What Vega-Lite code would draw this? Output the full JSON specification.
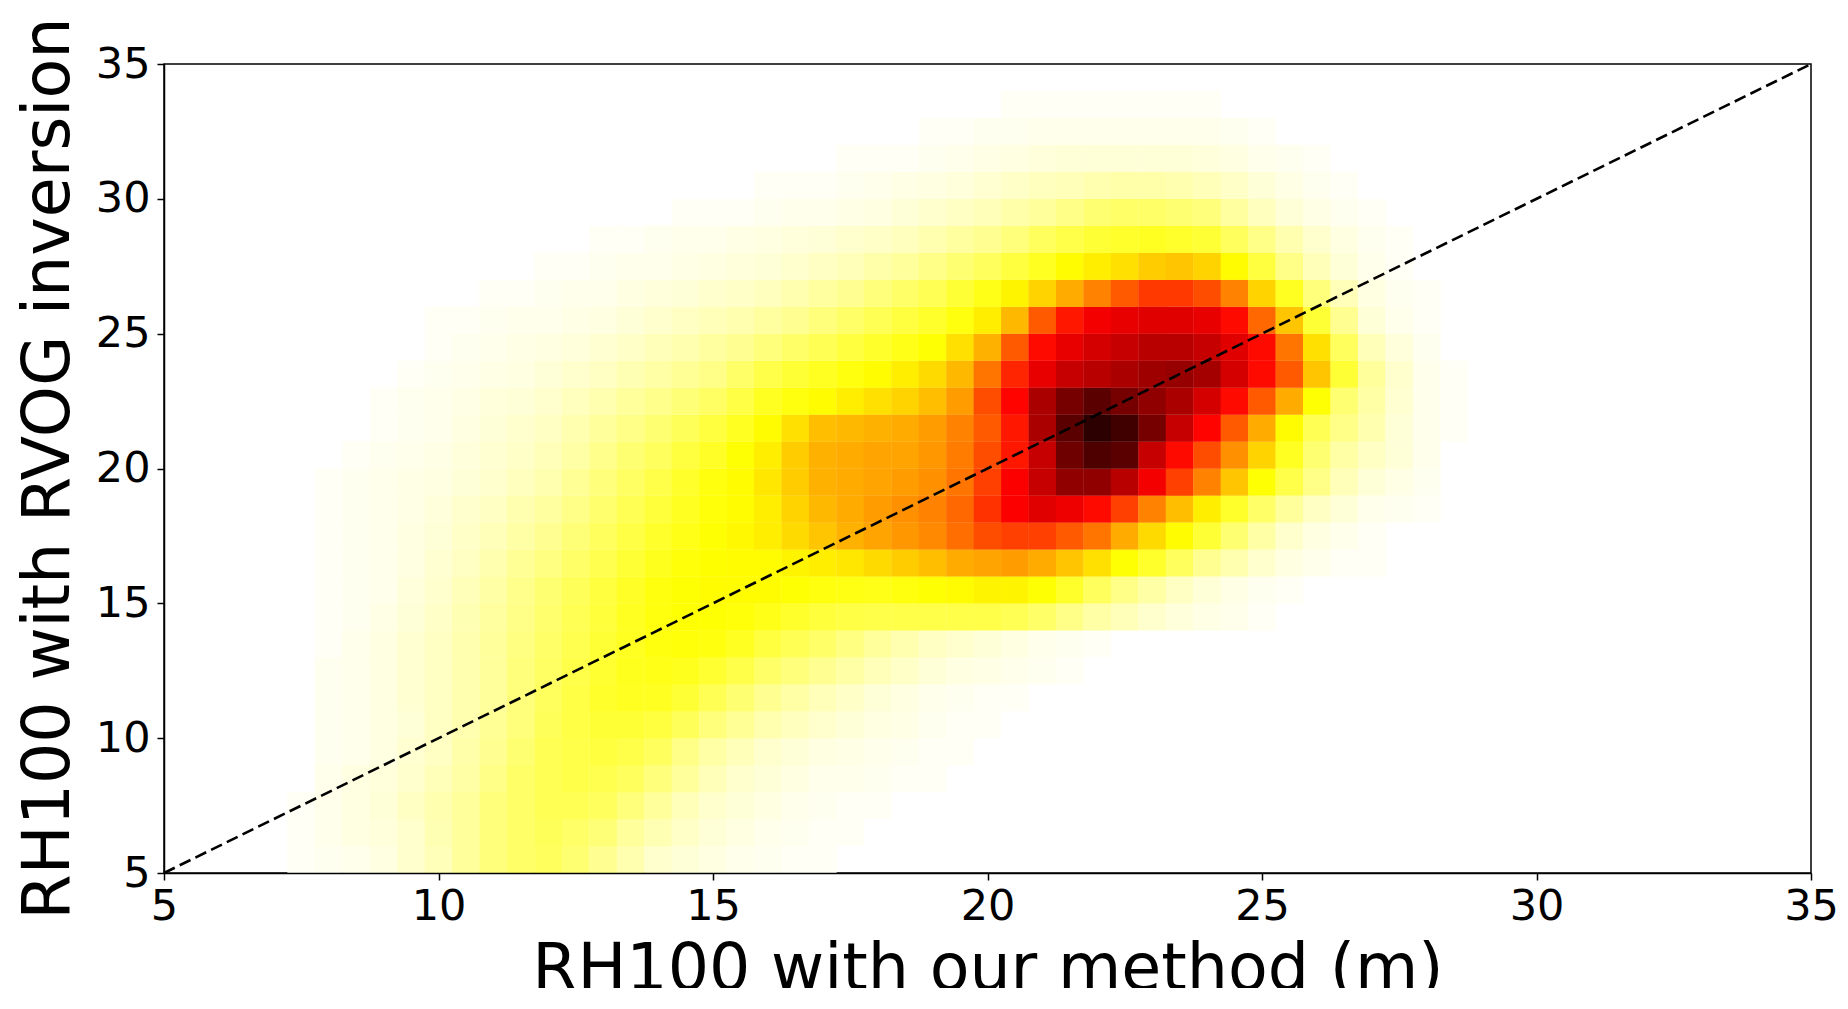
{"$schema":"https://vega.github.io/schema/vega-lite/v6.json","width":1647,"height":809,"autosize":{"type":"none"},"padding":{"left":164,"top":64,"right":37,"bottom":115},"background":"white","config":{"font":"DejaVu Sans","view":{"stroke":"black","strokeWidth":1.5}},"layer":[{"data":{"values":[
{"x":7.5,"y":5.5,"v":1},{"x":8,"y":5.5,"v":1.5},{"x":8.5,"y":5.5,"v":2},{"x":9,"y":5.5,"v":3},{"x":9.5,"y":5.5,"v":5},{"x":10,"y":5.5,"v":7},{"x":10.5,"y":5.5,"v":10},{"x":11,"y":5.5,"v":13},{"x":11.5,"y":5.5,"v":15},{"x":12,"y":5.5,"v":16},{"x":12.5,"y":5.5,"v":14},{"x":13,"y":5.5,"v":11},{"x":13.5,"y":5.5,"v":8},{"x":14,"y":5.5,"v":5},{"x":14.5,"y":5.5,"v":4},{"x":15,"y":5.5,"v":3},{"x":15.5,"y":5.5,"v":2},{"x":16,"y":5.5,"v":1.5},{"x":16.5,"y":5.5,"v":1},{"x":17,"y":5.5,"v":1},
{"x":7.5,"y":6.5,"v":1},{"x":8,"y":6.5,"v":2},{"x":8.5,"y":6.5,"v":3},{"x":9,"y":6.5,"v":3.5},{"x":9.5,"y":6.5,"v":5},{"x":10,"y":6.5,"v":7.5},{"x":10.5,"y":6.5,"v":10},{"x":11,"y":6.5,"v":13},{"x":11.5,"y":6.5,"v":15},{"x":12,"y":6.5,"v":16.5},{"x":12.5,"y":6.5,"v":15},{"x":13,"y":6.5,"v":13.5},{"x":13.5,"y":6.5,"v":10},{"x":14,"y":6.5,"v":7.5},{"x":14.5,"y":6.5,"v":5.5},{"x":15,"y":6.5,"v":4},{"x":15.5,"y":6.5,"v":3},{"x":16,"y":6.5,"v":2},{"x":16.5,"y":6.5,"v":1.5},{"x":17,"y":6.5,"v":1},{"x":17.5,"y":6.5,"v":1},
{"x":7.5,"y":7.5,"v":1},{"x":8,"y":7.5,"v":2},{"x":8.5,"y":7.5,"v":3},{"x":9,"y":7.5,"v":4},{"x":9.5,"y":7.5,"v":6},{"x":10,"y":7.5,"v":8},{"x":10.5,"y":7.5,"v":10},{"x":11,"y":7.5,"v":13},{"x":11.5,"y":7.5,"v":15},{"x":12,"y":7.5,"v":17},{"x":12.5,"y":7.5,"v":17},{"x":13,"y":7.5,"v":16},{"x":13.5,"y":7.5,"v":13},{"x":14,"y":7.5,"v":10},{"x":14.5,"y":7.5,"v":7},{"x":15,"y":7.5,"v":5},{"x":15.5,"y":7.5,"v":4},{"x":16,"y":7.5,"v":3},{"x":16.5,"y":7.5,"v":2},{"x":17,"y":7.5,"v":1.5},{"x":17.5,"y":7.5,"v":1},{"x":18,"y":7.5,"v":1},
{"x":8,"y":8.5,"v":2},{"x":8.5,"y":8.5,"v":3},{"x":9,"y":8.5,"v":3.5},{"x":9.5,"y":8.5,"v":5},{"x":10,"y":8.5,"v":7},{"x":10.5,"y":8.5,"v":9},{"x":11,"y":8.5,"v":12},{"x":11.5,"y":8.5,"v":15},{"x":12,"y":8.5,"v":17},{"x":12.5,"y":8.5,"v":18},{"x":13,"y":8.5,"v":17.5},{"x":13.5,"y":8.5,"v":16},{"x":14,"y":8.5,"v":13},{"x":14.5,"y":8.5,"v":10},{"x":15,"y":8.5,"v":7},{"x":15.5,"y":8.5,"v":5},{"x":16,"y":8.5,"v":4},{"x":16.5,"y":8.5,"v":3},{"x":17,"y":8.5,"v":2},{"x":17.5,"y":8.5,"v":2},{"x":18,"y":8.5,"v":1.5},{"x":18.5,"y":8.5,"v":1},{"x":19,"y":8.5,"v":1},
{"x":8,"y":9.5,"v":1.5},{"x":8.5,"y":9.5,"v":2},{"x":9,"y":9.5,"v":3},{"x":9.5,"y":9.5,"v":4.5},{"x":10,"y":9.5,"v":6},{"x":10.5,"y":9.5,"v":8.5},{"x":11,"y":9.5,"v":11},{"x":11.5,"y":9.5,"v":14},{"x":12,"y":9.5,"v":17},{"x":12.5,"y":9.5,"v":18},{"x":13,"y":9.5,"v":19},{"x":13.5,"y":9.5,"v":18},{"x":14,"y":9.5,"v":16},{"x":14.5,"y":9.5,"v":12},{"x":15,"y":9.5,"v":9},{"x":15.5,"y":9.5,"v":7},{"x":16,"y":9.5,"v":5},{"x":16.5,"y":9.5,"v":4},{"x":17,"y":9.5,"v":3},{"x":17.5,"y":9.5,"v":2.5},{"x":18,"y":9.5,"v":2},{"x":18.5,"y":9.5,"v":1.5},{"x":19,"y":9.5,"v":1},{"x":19.5,"y":9.5,"v":1},
{"x":8,"y":10.5,"v":1.5},{"x":8.5,"y":10.5,"v":2},{"x":9,"y":10.5,"v":3},{"x":9.5,"y":10.5,"v":4},{"x":10,"y":10.5,"v":6},{"x":10.5,"y":10.5,"v":8},{"x":11,"y":10.5,"v":10.5},{"x":11.5,"y":10.5,"v":13},{"x":12,"y":10.5,"v":16.5},{"x":12.5,"y":10.5,"v":18.5},{"x":13,"y":10.5,"v":20},{"x":13.5,"y":10.5,"v":20},{"x":14,"y":10.5,"v":19},{"x":14.5,"y":10.5,"v":16.5},{"x":15,"y":10.5,"v":13},{"x":15.5,"y":10.5,"v":10.5},{"x":16,"y":10.5,"v":8},{"x":16.5,"y":10.5,"v":6.5},{"x":17,"y":10.5,"v":5},{"x":17.5,"y":10.5,"v":4},{"x":18,"y":10.5,"v":3},{"x":18.5,"y":10.5,"v":2.5},{"x":19,"y":10.5,"v":1.5},{"x":19.5,"y":10.5,"v":1},{"x":20,"y":10.5,"v":1},
{"x":8,"y":11.5,"v":1.5},{"x":8.5,"y":11.5,"v":2},{"x":9,"y":11.5,"v":3},{"x":9.5,"y":11.5,"v":4.5},{"x":10,"y":11.5,"v":6},{"x":10.5,"y":11.5,"v":8},{"x":11,"y":11.5,"v":10},{"x":11.5,"y":11.5,"v":13},{"x":12,"y":11.5,"v":16},{"x":12.5,"y":11.5,"v":18.5},{"x":13,"y":11.5,"v":21},{"x":13.5,"y":11.5,"v":22},{"x":14,"y":11.5,"v":22},{"x":14.5,"y":11.5,"v":20},{"x":15,"y":11.5,"v":17},{"x":15.5,"y":11.5,"v":14},{"x":16,"y":11.5,"v":11},{"x":16.5,"y":11.5,"v":9},{"x":17,"y":11.5,"v":7},{"x":17.5,"y":11.5,"v":5.5},{"x":18,"y":11.5,"v":4},{"x":18.5,"y":11.5,"v":3},{"x":19,"y":11.5,"v":2},{"x":19.5,"y":11.5,"v":1.5},{"x":20,"y":11.5,"v":1},{"x":20.5,"y":11.5,"v":1},
{"x":8,"y":12.5,"v":1.5},{"x":8.5,"y":12.5,"v":2},{"x":9,"y":12.5,"v":3},{"x":9.5,"y":12.5,"v":4.5},{"x":10,"y":12.5,"v":6},{"x":10.5,"y":12.5,"v":8},{"x":11,"y":12.5,"v":10},{"x":11.5,"y":12.5,"v":13},{"x":12,"y":12.5,"v":15.5},{"x":12.5,"y":12.5,"v":18},{"x":13,"y":12.5,"v":20.5},{"x":13.5,"y":12.5,"v":22.5},{"x":14,"y":12.5,"v":23},{"x":14.5,"y":12.5,"v":22.5},{"x":15,"y":12.5,"v":20.5},{"x":15.5,"y":12.5,"v":18},{"x":16,"y":12.5,"v":15},{"x":16.5,"y":12.5,"v":13},{"x":17,"y":12.5,"v":11},{"x":17.5,"y":12.5,"v":9},{"x":18,"y":12.5,"v":7},{"x":18.5,"y":12.5,"v":5.5},{"x":19,"y":12.5,"v":4},{"x":19.5,"y":12.5,"v":3},{"x":20,"y":12.5,"v":2.5},{"x":20.5,"y":12.5,"v":2},{"x":21,"y":12.5,"v":1.5},{"x":21.5,"y":12.5,"v":1},
{"x":8,"y":13.5,"v":1},{"x":8.5,"y":13.5,"v":2},{"x":9,"y":13.5,"v":3},{"x":9.5,"y":13.5,"v":4.5},{"x":10,"y":13.5,"v":6},{"x":10.5,"y":13.5,"v":8},{"x":11,"y":13.5,"v":10},{"x":11.5,"y":13.5,"v":12.5},{"x":12,"y":13.5,"v":15},{"x":12.5,"y":13.5,"v":17.5},{"x":13,"y":13.5,"v":20},{"x":13.5,"y":13.5,"v":22},{"x":14,"y":13.5,"v":24},{"x":14.5,"y":13.5,"v":24.5},{"x":15,"y":13.5,"v":24},{"x":15.5,"y":13.5,"v":22},{"x":16,"y":13.5,"v":19},{"x":16.5,"y":13.5,"v":17},{"x":17,"y":13.5,"v":15},{"x":17.5,"y":13.5,"v":12.5},{"x":18,"y":13.5,"v":10},{"x":18.5,"y":13.5,"v":8},{"x":19,"y":13.5,"v":6},{"x":19.5,"y":13.5,"v":5},{"x":20,"y":13.5,"v":4},{"x":20.5,"y":13.5,"v":3},{"x":21,"y":13.5,"v":2},{"x":21.5,"y":13.5,"v":1.5},{"x":22,"y":13.5,"v":1},
{"x":8,"y":14.5,"v":1},{"x":8.5,"y":14.5,"v":1.5},{"x":9,"y":14.5,"v":2.5},{"x":9.5,"y":14.5,"v":4},{"x":10,"y":14.5,"v":5.5},{"x":10.5,"y":14.5,"v":7.5},{"x":11,"y":14.5,"v":9.5},{"x":11.5,"y":14.5,"v":12},{"x":12,"y":14.5,"v":14.5},{"x":12.5,"y":14.5,"v":17},{"x":13,"y":14.5,"v":19.5},{"x":13.5,"y":14.5,"v":22},{"x":14,"y":14.5,"v":24},{"x":14.5,"y":14.5,"v":25},{"x":15,"y":14.5,"v":25},{"x":15.5,"y":14.5,"v":24.5},{"x":16,"y":14.5,"v":23},{"x":16.5,"y":14.5,"v":21},{"x":17,"y":14.5,"v":19.5},{"x":17.5,"y":14.5,"v":18.5},{"x":18,"y":14.5,"v":18},{"x":18.5,"y":14.5,"v":18},{"x":19,"y":14.5,"v":18},{"x":19.5,"y":14.5,"v":18},{"x":20,"y":14.5,"v":18},{"x":20.5,"y":14.5,"v":17},{"x":21,"y":14.5,"v":15},{"x":21.5,"y":14.5,"v":12},{"x":22,"y":14.5,"v":9},{"x":22.5,"y":14.5,"v":7},{"x":23,"y":14.5,"v":5},{"x":23.5,"y":14.5,"v":3.5},{"x":24,"y":14.5,"v":2.5},{"x":24.5,"y":14.5,"v":2},{"x":25,"y":14.5,"v":1},
{"x":8,"y":15.5,"v":1},{"x":8.5,"y":15.5,"v":1.5},{"x":9,"y":15.5,"v":2},{"x":9.5,"y":15.5,"v":3.5},{"x":10,"y":15.5,"v":5},{"x":10.5,"y":15.5,"v":7},{"x":11,"y":15.5,"v":9},{"x":11.5,"y":15.5,"v":11.5},{"x":12,"y":15.5,"v":14},{"x":12.5,"y":15.5,"v":16.5},{"x":13,"y":15.5,"v":19},{"x":13.5,"y":15.5,"v":21.5},{"x":14,"y":15.5,"v":24},{"x":14.5,"y":15.5,"v":25},{"x":15,"y":15.5,"v":26},{"x":15.5,"y":15.5,"v":26},{"x":16,"y":15.5,"v":26},{"x":16.5,"y":15.5,"v":25},{"x":17,"y":15.5,"v":24},{"x":17.5,"y":15.5,"v":23.5},{"x":18,"y":15.5,"v":23},{"x":18.5,"y":15.5,"v":24},{"x":19,"y":15.5,"v":25},{"x":19.5,"y":15.5,"v":26},{"x":20,"y":15.5,"v":27},{"x":20.5,"y":15.5,"v":27},{"x":21,"y":15.5,"v":25},{"x":21.5,"y":15.5,"v":21},{"x":22,"y":15.5,"v":16},{"x":22.5,"y":15.5,"v":12},{"x":23,"y":15.5,"v":9},{"x":23.5,"y":15.5,"v":6},{"x":24,"y":15.5,"v":4},{"x":24.5,"y":15.5,"v":2.5},{"x":25,"y":15.5,"v":1.5},{"x":25.5,"y":15.5,"v":1},
{"x":8,"y":16.5,"v":1},{"x":8.5,"y":16.5,"v":1.5},{"x":9,"y":16.5,"v":2},{"x":9.5,"y":16.5,"v":3},{"x":10,"y":16.5,"v":4.5},{"x":10.5,"y":16.5,"v":6},{"x":11,"y":16.5,"v":8},{"x":11.5,"y":16.5,"v":10.5},{"x":12,"y":16.5,"v":12.5},{"x":12.5,"y":16.5,"v":15},{"x":13,"y":16.5,"v":17.5},{"x":13.5,"y":16.5,"v":20},{"x":14,"y":16.5,"v":22.5},{"x":14.5,"y":16.5,"v":24.5},{"x":15,"y":16.5,"v":25.5},{"x":15.5,"y":16.5,"v":26},{"x":16,"y":16.5,"v":26},{"x":16.5,"y":16.5,"v":27},{"x":17,"y":16.5,"v":28},{"x":17.5,"y":16.5,"v":29},{"x":18,"y":16.5,"v":31},{"x":18.5,"y":16.5,"v":33},{"x":19,"y":16.5,"v":35},{"x":19.5,"y":16.5,"v":38},{"x":20,"y":16.5,"v":39},{"x":20.5,"y":16.5,"v":40},{"x":21,"y":16.5,"v":38},{"x":21.5,"y":16.5,"v":34},{"x":22,"y":16.5,"v":30},{"x":22.5,"y":16.5,"v":25},{"x":23,"y":16.5,"v":21},{"x":23.5,"y":16.5,"v":16},{"x":24,"y":16.5,"v":11},{"x":24.5,"y":16.5,"v":8},{"x":25,"y":16.5,"v":5},{"x":25.5,"y":16.5,"v":3},{"x":26,"y":16.5,"v":2},{"x":26.5,"y":16.5,"v":1},{"x":27,"y":16.5,"v":1},
{"x":8,"y":17.5,"v":1},{"x":8.5,"y":17.5,"v":1.5},{"x":9,"y":17.5,"v":2},{"x":9.5,"y":17.5,"v":3},{"x":10,"y":17.5,"v":4},{"x":10.5,"y":17.5,"v":5.5},{"x":11,"y":17.5,"v":7},{"x":11.5,"y":17.5,"v":9},{"x":12,"y":17.5,"v":11},{"x":12.5,"y":17.5,"v":13.5},{"x":13,"y":17.5,"v":16},{"x":13.5,"y":17.5,"v":18.5},{"x":14,"y":17.5,"v":21},{"x":14.5,"y":17.5,"v":23},{"x":15,"y":17.5,"v":25},{"x":15.5,"y":17.5,"v":26.5},{"x":16,"y":17.5,"v":28},{"x":16.5,"y":17.5,"v":31},{"x":17,"y":17.5,"v":34},{"x":17.5,"y":17.5,"v":37},{"x":18,"y":17.5,"v":39},{"x":18.5,"y":17.5,"v":41},{"x":19,"y":17.5,"v":43},{"x":19.5,"y":17.5,"v":47},{"x":20,"y":17.5,"v":52},{"x":20.5,"y":17.5,"v":54},{"x":21,"y":17.5,"v":54},{"x":21.5,"y":17.5,"v":50},{"x":22,"y":17.5,"v":46},{"x":22.5,"y":17.5,"v":38},{"x":23,"y":17.5,"v":31},{"x":23.5,"y":17.5,"v":26},{"x":24,"y":17.5,"v":20},{"x":24.5,"y":17.5,"v":14},{"x":25,"y":17.5,"v":9},{"x":25.5,"y":17.5,"v":5},{"x":26,"y":17.5,"v":3},{"x":26.5,"y":17.5,"v":2},{"x":27,"y":17.5,"v":1},
{"x":8,"y":18.5,"v":1},{"x":8.5,"y":18.5,"v":1.5},{"x":9,"y":18.5,"v":2},{"x":9.5,"y":18.5,"v":2.5},{"x":10,"y":18.5,"v":3.5},{"x":10.5,"y":18.5,"v":5},{"x":11,"y":18.5,"v":6},{"x":11.5,"y":18.5,"v":8},{"x":12,"y":18.5,"v":9.5},{"x":12.5,"y":18.5,"v":12},{"x":13,"y":18.5,"v":14.5},{"x":13.5,"y":18.5,"v":17},{"x":14,"y":18.5,"v":19.5},{"x":14.5,"y":18.5,"v":22},{"x":15,"y":18.5,"v":24.5},{"x":15.5,"y":18.5,"v":26},{"x":16,"y":18.5,"v":28},{"x":16.5,"y":18.5,"v":32},{"x":17,"y":18.5,"v":36},{"x":17.5,"y":18.5,"v":38},{"x":18,"y":18.5,"v":40},{"x":18.5,"y":18.5,"v":42},{"x":19,"y":18.5,"v":44},{"x":19.5,"y":18.5,"v":48},{"x":20,"y":18.5,"v":56},{"x":20.5,"y":18.5,"v":64},{"x":21,"y":18.5,"v":68},{"x":21.5,"y":18.5,"v":66},{"x":22,"y":18.5,"v":62},{"x":22.5,"y":18.5,"v":54},{"x":23,"y":18.5,"v":44},{"x":23.5,"y":18.5,"v":35},{"x":24,"y":18.5,"v":28},{"x":24.5,"y":18.5,"v":21},{"x":25,"y":18.5,"v":15},{"x":25.5,"y":18.5,"v":10},{"x":26,"y":18.5,"v":6},{"x":26.5,"y":18.5,"v":4},{"x":27,"y":18.5,"v":2},{"x":27.5,"y":18.5,"v":1.5},{"x":28,"y":18.5,"v":1},
{"x":8,"y":19.5,"v":1},{"x":8.5,"y":19.5,"v":1.5},{"x":9,"y":19.5,"v":2},{"x":9.5,"y":19.5,"v":2.5},{"x":10,"y":19.5,"v":3},{"x":10.5,"y":19.5,"v":4},{"x":11,"y":19.5,"v":5},{"x":11.5,"y":19.5,"v":6.5},{"x":12,"y":19.5,"v":8},{"x":12.5,"y":19.5,"v":10.5},{"x":13,"y":19.5,"v":13},{"x":13.5,"y":19.5,"v":15.5},{"x":14,"y":19.5,"v":18},{"x":14.5,"y":19.5,"v":21},{"x":15,"y":19.5,"v":24},{"x":15.5,"y":19.5,"v":26},{"x":16,"y":19.5,"v":29},{"x":16.5,"y":19.5,"v":33},{"x":17,"y":19.5,"v":37},{"x":17.5,"y":19.5,"v":38},{"x":18,"y":19.5,"v":39},{"x":18.5,"y":19.5,"v":40},{"x":19,"y":19.5,"v":42},{"x":19.5,"y":19.5,"v":46},{"x":20,"y":19.5,"v":54},{"x":20.5,"y":19.5,"v":64},{"x":21,"y":19.5,"v":72},{"x":21.5,"y":19.5,"v":80},{"x":22,"y":19.5,"v":80},{"x":22.5,"y":19.5,"v":74},{"x":23,"y":19.5,"v":65},{"x":23.5,"y":19.5,"v":54},{"x":24,"y":19.5,"v":44},{"x":24.5,"y":19.5,"v":34},{"x":25,"y":19.5,"v":25},{"x":25.5,"y":19.5,"v":18},{"x":26,"y":19.5,"v":12},{"x":26.5,"y":19.5,"v":7},{"x":27,"y":19.5,"v":4},{"x":27.5,"y":19.5,"v":2.5},{"x":28,"y":19.5,"v":1.5},
{"x":8.5,"y":20.5,"v":1},{"x":9,"y":20.5,"v":1.5},{"x":9.5,"y":20.5,"v":2},{"x":10,"y":20.5,"v":2.5},{"x":10.5,"y":20.5,"v":3.5},{"x":11,"y":20.5,"v":4.5},{"x":11.5,"y":20.5,"v":5.5},{"x":12,"y":20.5,"v":7},{"x":12.5,"y":20.5,"v":9},{"x":13,"y":20.5,"v":11.5},{"x":13.5,"y":20.5,"v":14},{"x":14,"y":20.5,"v":16},{"x":14.5,"y":20.5,"v":19},{"x":15,"y":20.5,"v":21.5},{"x":15.5,"y":20.5,"v":25},{"x":16,"y":20.5,"v":28},{"x":16.5,"y":20.5,"v":33},{"x":17,"y":20.5,"v":37},{"x":17.5,"y":20.5,"v":38},{"x":18,"y":20.5,"v":39},{"x":18.5,"y":20.5,"v":39},{"x":19,"y":20.5,"v":41},{"x":19.5,"y":20.5,"v":45},{"x":20,"y":20.5,"v":52},{"x":20.5,"y":20.5,"v":60},{"x":21,"y":20.5,"v":72},{"x":21.5,"y":20.5,"v":85},{"x":22,"y":20.5,"v":90},{"x":22.5,"y":20.5,"v":88},{"x":23,"y":20.5,"v":72},{"x":23.5,"y":20.5,"v":62},{"x":24,"y":20.5,"v":52},{"x":24.5,"y":20.5,"v":42},{"x":25,"y":20.5,"v":32},{"x":25.5,"y":20.5,"v":22},{"x":26,"y":20.5,"v":14},{"x":26.5,"y":20.5,"v":9},{"x":27,"y":20.5,"v":6},{"x":27.5,"y":20.5,"v":4},{"x":28,"y":20.5,"v":2},
{"x":9,"y":21.5,"v":1},{"x":9.5,"y":21.5,"v":1.5},{"x":10,"y":21.5,"v":2},{"x":10.5,"y":21.5,"v":3},{"x":11,"y":21.5,"v":4},{"x":11.5,"y":21.5,"v":5},{"x":12,"y":21.5,"v":6},{"x":12.5,"y":21.5,"v":8},{"x":13,"y":21.5,"v":10},{"x":13.5,"y":21.5,"v":12},{"x":14,"y":21.5,"v":14},{"x":14.5,"y":21.5,"v":16.5},{"x":15,"y":21.5,"v":19},{"x":15.5,"y":21.5,"v":22},{"x":16,"y":21.5,"v":26},{"x":16.5,"y":21.5,"v":30},{"x":17,"y":21.5,"v":35},{"x":17.5,"y":21.5,"v":36},{"x":18,"y":21.5,"v":37},{"x":18.5,"y":21.5,"v":38},{"x":19,"y":21.5,"v":40},{"x":19.5,"y":21.5,"v":44},{"x":20,"y":21.5,"v":50},{"x":20.5,"y":21.5,"v":60},{"x":21,"y":21.5,"v":76},{"x":21.5,"y":21.5,"v":88},{"x":22,"y":21.5,"v":95},{"x":22.5,"y":21.5,"v":92},{"x":23,"y":21.5,"v":84},{"x":23.5,"y":21.5,"v":72},{"x":24,"y":21.5,"v":63},{"x":24.5,"y":21.5,"v":50},{"x":25,"y":21.5,"v":38},{"x":25.5,"y":21.5,"v":26},{"x":26,"y":21.5,"v":17},{"x":26.5,"y":21.5,"v":12},{"x":27,"y":21.5,"v":8},{"x":27.5,"y":21.5,"v":4},{"x":28,"y":21.5,"v":2},{"x":28.5,"y":21.5,"v":1},
{"x":9,"y":22.5,"v":1},{"x":9.5,"y":22.5,"v":1.5},{"x":10,"y":22.5,"v":2},{"x":10.5,"y":22.5,"v":2.5},{"x":11,"y":22.5,"v":3.5},{"x":11.5,"y":22.5,"v":4},{"x":12,"y":22.5,"v":5},{"x":12.5,"y":22.5,"v":6.5},{"x":13,"y":22.5,"v":8},{"x":13.5,"y":22.5,"v":10},{"x":14,"y":22.5,"v":11.5},{"x":14.5,"y":22.5,"v":13.5},{"x":15,"y":22.5,"v":15.5},{"x":15.5,"y":22.5,"v":18.5},{"x":16,"y":22.5,"v":22},{"x":16.5,"y":22.5,"v":24},{"x":17,"y":22.5,"v":26},{"x":17.5,"y":22.5,"v":28},{"x":18,"y":22.5,"v":30},{"x":18.5,"y":22.5,"v":32},{"x":19,"y":22.5,"v":35},{"x":19.5,"y":22.5,"v":40},{"x":20,"y":22.5,"v":52},{"x":20.5,"y":22.5,"v":63},{"x":21,"y":22.5,"v":76},{"x":21.5,"y":22.5,"v":84},{"x":22,"y":22.5,"v":88},{"x":22.5,"y":22.5,"v":84},{"x":23,"y":22.5,"v":80},{"x":23.5,"y":22.5,"v":76},{"x":24,"y":22.5,"v":70},{"x":24.5,"y":22.5,"v":62},{"x":25,"y":22.5,"v":50},{"x":25.5,"y":22.5,"v":38},{"x":26,"y":22.5,"v":25},{"x":26.5,"y":22.5,"v":14},{"x":27,"y":22.5,"v":9},{"x":27.5,"y":22.5,"v":4.5},{"x":28,"y":22.5,"v":2},{"x":28.5,"y":22.5,"v":1},
{"x":9.5,"y":23.5,"v":1},{"x":10,"y":23.5,"v":1.5},{"x":10.5,"y":23.5,"v":2},{"x":11,"y":23.5,"v":2.5},{"x":11.5,"y":23.5,"v":3},{"x":12,"y":23.5,"v":4},{"x":12.5,"y":23.5,"v":5},{"x":13,"y":23.5,"v":6},{"x":13.5,"y":23.5,"v":7.5},{"x":14,"y":23.5,"v":9},{"x":14.5,"y":23.5,"v":10.5},{"x":15,"y":23.5,"v":12},{"x":15.5,"y":23.5,"v":15},{"x":16,"y":23.5,"v":18},{"x":16.5,"y":23.5,"v":20},{"x":17,"y":23.5,"v":22},{"x":17.5,"y":23.5,"v":24},{"x":18,"y":23.5,"v":26},{"x":18.5,"y":23.5,"v":28},{"x":19,"y":23.5,"v":31},{"x":19.5,"y":23.5,"v":36},{"x":20,"y":23.5,"v":46},{"x":20.5,"y":23.5,"v":58},{"x":21,"y":23.5,"v":67},{"x":21.5,"y":23.5,"v":72},{"x":22,"y":23.5,"v":74},{"x":22.5,"y":23.5,"v":76},{"x":23,"y":23.5,"v":78},{"x":23.5,"y":23.5,"v":79},{"x":24,"y":23.5,"v":77},{"x":24.5,"y":23.5,"v":70},{"x":25,"y":23.5,"v":62},{"x":25.5,"y":23.5,"v":50},{"x":26,"y":23.5,"v":34},{"x":26.5,"y":23.5,"v":20},{"x":27,"y":23.5,"v":10},{"x":27.5,"y":23.5,"v":5},{"x":28,"y":23.5,"v":2},{"x":28.5,"y":23.5,"v":1},
{"x":10,"y":24.5,"v":1},{"x":10.5,"y":24.5,"v":1.5},{"x":11,"y":24.5,"v":2},{"x":11.5,"y":24.5,"v":2.5},{"x":12,"y":24.5,"v":3},{"x":12.5,"y":24.5,"v":3.5},{"x":13,"y":24.5,"v":4.5},{"x":13.5,"y":24.5,"v":5.5},{"x":14,"y":24.5,"v":7},{"x":14.5,"y":24.5,"v":8},{"x":15,"y":24.5,"v":9.5},{"x":15.5,"y":24.5,"v":11},{"x":16,"y":24.5,"v":13},{"x":16.5,"y":24.5,"v":15},{"x":17,"y":24.5,"v":17},{"x":17.5,"y":24.5,"v":19},{"x":18,"y":24.5,"v":21},{"x":18.5,"y":24.5,"v":23},{"x":19,"y":24.5,"v":25},{"x":19.5,"y":24.5,"v":30},{"x":20,"y":24.5,"v":37},{"x":20.5,"y":24.5,"v":50},{"x":21,"y":24.5,"v":62},{"x":21.5,"y":24.5,"v":67},{"x":22,"y":24.5,"v":70},{"x":22.5,"y":24.5,"v":72},{"x":23,"y":24.5,"v":74},{"x":23.5,"y":24.5,"v":74},{"x":24,"y":24.5,"v":72},{"x":24.5,"y":24.5,"v":68},{"x":25,"y":24.5,"v":62},{"x":25.5,"y":24.5,"v":46},{"x":26,"y":24.5,"v":30},{"x":26.5,"y":24.5,"v":16},{"x":27,"y":24.5,"v":7},{"x":27.5,"y":24.5,"v":3.5},{"x":28,"y":24.5,"v":1.5},
{"x":10,"y":25.5,"v":1},{"x":10.5,"y":25.5,"v":1},{"x":11,"y":25.5,"v":1.5},{"x":11.5,"y":25.5,"v":2},{"x":12,"y":25.5,"v":2},{"x":12.5,"y":25.5,"v":2.5},{"x":13,"y":25.5,"v":3},{"x":13.5,"y":25.5,"v":4},{"x":14,"y":25.5,"v":5},{"x":14.5,"y":25.5,"v":6},{"x":15,"y":25.5,"v":7},{"x":15.5,"y":25.5,"v":8},{"x":16,"y":25.5,"v":9.5},{"x":16.5,"y":25.5,"v":11},{"x":17,"y":25.5,"v":13},{"x":17.5,"y":25.5,"v":15},{"x":18,"y":25.5,"v":17},{"x":18.5,"y":25.5,"v":19},{"x":19,"y":25.5,"v":21},{"x":19.5,"y":25.5,"v":24},{"x":20,"y":25.5,"v":28},{"x":20.5,"y":25.5,"v":36},{"x":21,"y":25.5,"v":50},{"x":21.5,"y":25.5,"v":60},{"x":22,"y":25.5,"v":65},{"x":22.5,"y":25.5,"v":67},{"x":23,"y":25.5,"v":68},{"x":23.5,"y":25.5,"v":68},{"x":24,"y":25.5,"v":67},{"x":24.5,"y":25.5,"v":62},{"x":25,"y":25.5,"v":48},{"x":25.5,"y":25.5,"v":34},{"x":26,"y":25.5,"v":20},{"x":26.5,"y":25.5,"v":11},{"x":27,"y":25.5,"v":4},{"x":27.5,"y":25.5,"v":2},{"x":28,"y":25.5,"v":1},
{"x":11,"y":26.5,"v":1},{"x":11.5,"y":26.5,"v":1},{"x":12,"y":26.5,"v":1.5},{"x":12.5,"y":26.5,"v":2},{"x":13,"y":26.5,"v":2},{"x":13.5,"y":26.5,"v":3},{"x":14,"y":26.5,"v":3.5},{"x":14.5,"y":26.5,"v":4},{"x":15,"y":26.5,"v":5},{"x":15.5,"y":26.5,"v":5.5},{"x":16,"y":26.5,"v":6.5},{"x":16.5,"y":26.5,"v":8},{"x":17,"y":26.5,"v":9.5},{"x":17.5,"y":26.5,"v":11},{"x":18,"y":26.5,"v":13},{"x":18.5,"y":26.5,"v":15},{"x":19,"y":26.5,"v":17},{"x":19.5,"y":26.5,"v":20},{"x":20,"y":26.5,"v":23},{"x":20.5,"y":26.5,"v":27},{"x":21,"y":26.5,"v":32},{"x":21.5,"y":26.5,"v":38},{"x":22,"y":26.5,"v":44},{"x":22.5,"y":26.5,"v":50},{"x":23,"y":26.5,"v":55},{"x":23.5,"y":26.5,"v":55},{"x":24,"y":26.5,"v":52},{"x":24.5,"y":26.5,"v":44},{"x":25,"y":26.5,"v":32},{"x":25.5,"y":26.5,"v":22},{"x":26,"y":26.5,"v":13},{"x":26.5,"y":26.5,"v":7},{"x":27,"y":26.5,"v":3},{"x":27.5,"y":26.5,"v":1.5},{"x":28,"y":26.5,"v":1},
{"x":12,"y":27.5,"v":1},{"x":12.5,"y":27.5,"v":1},{"x":13,"y":27.5,"v":1.5},{"x":13.5,"y":27.5,"v":2},{"x":14,"y":27.5,"v":2},{"x":14.5,"y":27.5,"v":2.5},{"x":15,"y":27.5,"v":3},{"x":15.5,"y":27.5,"v":3.5},{"x":16,"y":27.5,"v":4},{"x":16.5,"y":27.5,"v":5},{"x":17,"y":27.5,"v":6},{"x":17.5,"y":27.5,"v":7},{"x":18,"y":27.5,"v":8.5},{"x":18.5,"y":27.5,"v":10},{"x":19,"y":27.5,"v":12},{"x":19.5,"y":27.5,"v":14},{"x":20,"y":27.5,"v":16},{"x":20.5,"y":27.5,"v":19},{"x":21,"y":27.5,"v":22},{"x":21.5,"y":27.5,"v":26},{"x":22,"y":27.5,"v":28},{"x":22.5,"y":27.5,"v":30},{"x":23,"y":27.5,"v":33},{"x":23.5,"y":27.5,"v":34},{"x":24,"y":27.5,"v":32},{"x":24.5,"y":27.5,"v":26},{"x":25,"y":27.5,"v":19},{"x":25.5,"y":27.5,"v":12},{"x":26,"y":27.5,"v":7},{"x":26.5,"y":27.5,"v":4},{"x":27,"y":27.5,"v":2},{"x":27.5,"y":27.5,"v":1},
{"x":13,"y":28.5,"v":1},{"x":13.5,"y":28.5,"v":1},{"x":14,"y":28.5,"v":1.5},{"x":14.5,"y":28.5,"v":2},{"x":15,"y":28.5,"v":2},{"x":15.5,"y":28.5,"v":2.5},{"x":16,"y":28.5,"v":3},{"x":16.5,"y":28.5,"v":3.5},{"x":17,"y":28.5,"v":4},{"x":17.5,"y":28.5,"v":5},{"x":18,"y":28.5,"v":5.5},{"x":18.5,"y":28.5,"v":6.5},{"x":19,"y":28.5,"v":8},{"x":19.5,"y":28.5,"v":9.5},{"x":20,"y":28.5,"v":11},{"x":20.5,"y":28.5,"v":13},{"x":21,"y":28.5,"v":16},{"x":21.5,"y":28.5,"v":18},{"x":22,"y":28.5,"v":20},{"x":22.5,"y":28.5,"v":21},{"x":23,"y":28.5,"v":22},{"x":23.5,"y":28.5,"v":21},{"x":24,"y":28.5,"v":20},{"x":24.5,"y":28.5,"v":16},{"x":25,"y":28.5,"v":12},{"x":25.5,"y":28.5,"v":8},{"x":26,"y":28.5,"v":5},{"x":26.5,"y":28.5,"v":3},{"x":27,"y":28.5,"v":1.5},{"x":27.5,"y":28.5,"v":1},
{"x":14.5,"y":29.5,"v":1},{"x":15,"y":29.5,"v":1},{"x":15.5,"y":29.5,"v":1},{"x":16,"y":29.5,"v":1.5},{"x":16.5,"y":29.5,"v":2},{"x":17,"y":29.5,"v":2},{"x":17.5,"y":29.5,"v":2.5},{"x":18,"y":29.5,"v":3},{"x":18.5,"y":29.5,"v":4},{"x":19,"y":29.5,"v":5},{"x":19.5,"y":29.5,"v":6},{"x":20,"y":29.5,"v":7},{"x":20.5,"y":29.5,"v":8.5},{"x":21,"y":29.5,"v":10},{"x":21.5,"y":29.5,"v":12},{"x":22,"y":29.5,"v":14},{"x":22.5,"y":29.5,"v":15},{"x":23,"y":29.5,"v":15},{"x":23.5,"y":29.5,"v":14},{"x":24,"y":29.5,"v":13},{"x":24.5,"y":29.5,"v":9.5},{"x":25,"y":29.5,"v":6.5},{"x":25.5,"y":29.5,"v":4},{"x":26,"y":29.5,"v":2.5},{"x":26.5,"y":29.5,"v":1.5},{"x":27,"y":29.5,"v":1},
{"x":16,"y":30.5,"v":1},{"x":16.5,"y":30.5,"v":1},{"x":17,"y":30.5,"v":1},{"x":17.5,"y":30.5,"v":1.5},{"x":18,"y":30.5,"v":2},{"x":18.5,"y":30.5,"v":2.5},{"x":19,"y":30.5,"v":3},{"x":19.5,"y":30.5,"v":3.5},{"x":20,"y":30.5,"v":4.5},{"x":20.5,"y":30.5,"v":5.5},{"x":21,"y":30.5,"v":6.5},{"x":21.5,"y":30.5,"v":7},{"x":22,"y":30.5,"v":8},{"x":22.5,"y":30.5,"v":8.5},{"x":23,"y":30.5,"v":8.5},{"x":23.5,"y":30.5,"v":8},{"x":24,"y":30.5,"v":7},{"x":24.5,"y":30.5,"v":5.5},{"x":25,"y":30.5,"v":4},{"x":25.5,"y":30.5,"v":2.5},{"x":26,"y":30.5,"v":1.5},{"x":26.5,"y":30.5,"v":1},
{"x":17.5,"y":31.5,"v":1},{"x":18,"y":31.5,"v":1},{"x":18.5,"y":31.5,"v":1},{"x":19,"y":31.5,"v":1.5},{"x":19.5,"y":31.5,"v":2},{"x":20,"y":31.5,"v":2.5},{"x":20.5,"y":31.5,"v":3},{"x":21,"y":31.5,"v":3.5},{"x":21.5,"y":31.5,"v":4},{"x":22,"y":31.5,"v":4},{"x":22.5,"y":31.5,"v":4},{"x":23,"y":31.5,"v":4},{"x":23.5,"y":31.5,"v":4},{"x":24,"y":31.5,"v":3.5},{"x":24.5,"y":31.5,"v":3},{"x":25,"y":31.5,"v":2},{"x":25.5,"y":31.5,"v":1.5},{"x":26,"y":31.5,"v":1},
{"x":19,"y":32.5,"v":1},{"x":19.5,"y":32.5,"v":1},{"x":20,"y":32.5,"v":1.5},{"x":20.5,"y":32.5,"v":1.5},{"x":21,"y":32.5,"v":2},{"x":21.5,"y":32.5,"v":2},{"x":22,"y":32.5,"v":2},{"x":22.5,"y":32.5,"v":2},{"x":23,"y":32.5,"v":2},{"x":23.5,"y":32.5,"v":2},{"x":24,"y":32.5,"v":2},{"x":24.5,"y":32.5,"v":1.5},{"x":25,"y":32.5,"v":1},
{"x":20.5,"y":33.5,"v":1},{"x":21,"y":33.5,"v":1},{"x":21.5,"y":33.5,"v":1},{"x":22,"y":33.5,"v":1},{"x":22.5,"y":33.5,"v":1},{"x":23,"y":33.5,"v":1},{"x":23.5,"y":33.5,"v":1},{"x":24,"y":33.5,"v":1}
]},"mark":{"type":"rect","width":27.8,"height":27.3},"encoding":{"x":{"field":"x","type":"quantitative","scale":{"domain":[5,35],"nice":false,"zero":false},"axis":{"title":"RH100 with our method (m)","titleFontSize":65,"titleFontWeight":"normal","titleColor":"black","titleBaseline":"alphabetic","titleX":823.5,"titleY":116,"values":[5,10,15,20,25,30,35],"labelFontSize":43,"labelColor":"black","labelPadding":5,"labelOverlap":false,"labelBound":false,"labelFlush":false,"tickSize":7,"tickWidth":1.5,"tickColor":"black","domainColor":"black","domainWidth":1.5,"grid":false,"zindex":1}},"y":{"field":"y","type":"quantitative","scale":{"domain":[5,35],"nice":false,"zero":false},"axis":{"title":"RH100 with RVOG inversion","titleFontSize":65,"titleFontWeight":"normal","titleColor":"black","titleBaseline":"alphabetic","titleAngle":-90,"titleX":-96,"titleY":404,"values":[5,10,15,20,25,30,35],"labelFontSize":43,"labelColor":"black","labelPadding":7,"labelOverlap":false,"labelBound":false,"labelFlush":false,"labelBaseline":"middle","tickSize":7,"tickWidth":1.5,"tickColor":"black","domainColor":"black","domainWidth":1.5,"grid":false,"zindex":1}},"color":{"field":"v","type":"quantitative","legend":null,"scale":{"domain":[0,25.4,63.5,100],"range":["#ffffff","#ffff00","#ff0000","#0b0000"],"interpolate":"rgb"}}}},{"data":{"values":[{"a":5,"b":5},{"a":35,"b":35}]},"mark":{"type":"line","color":"black","strokeWidth":2.6,"strokeDash":[12,5.5],"clip":false},"encoding":{"x":{"field":"a","type":"quantitative"},"y":{"field":"b","type":"quantitative"}}}]}
